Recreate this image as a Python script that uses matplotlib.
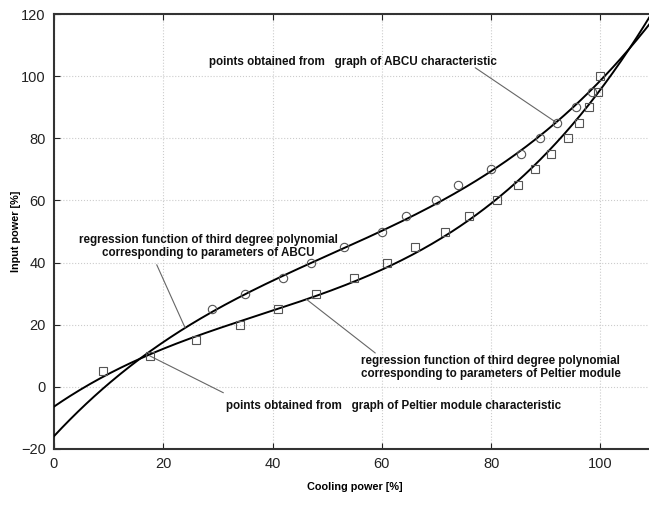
import numpy as np
import matplotlib
matplotlib.use("Agg")
import matplotlib.pyplot as plt

plt.rcParams['font.family'] = ['Liberation Sans', 'DejaVu Sans']

# points read from the ABCU characteristic (circles)
abcu_x = [29, 35, 42, 47, 53, 60, 64.5, 70, 74, 80, 85.5, 89, 92, 95.5, 98.5]
abcu_y = [25, 30, 35, 40, 45, 50, 55, 60, 65, 70, 75, 80, 85, 90, 95]

# points read from the Peltier module characteristic (squares)
pelt_x = [9, 17.5, 26, 34, 41, 48, 55, 61, 66, 71.5, 76, 81, 85, 88, 91, 94, 96, 98, 99.5, 100]
pelt_y = [5, 10, 15, 20, 25, 30, 35, 40, 45, 50, 55, 60, 65, 70, 75, 80, 85, 90, 95, 100]

# points
abcu_curve_x = [0, 6.6, 15.6, 24, 35, 42, 60, 80, 92, 98.5, 105, 109]
abcu_curve_y = [-16, -4.2, 8.9, 19.3, 30, 35, 50.3, 70.3, 85, 95, 108.5, 117]
pelt_curve_x = [0, 1.8, 15.6, 26, 34, 46.2, 55, 61, 71.5, 81, 91, 98, 105, 109]
pelt_curve_y = [-6, -4.2, 8.9, 15.5, 20.5, 28, 34.5, 39.5, 50, 60, 75, 90, 108.5, 120]

x_ticks = [0, 20, 40, 60, 80, 100]
y_ticks = [-20, 0, 20, 40, 60, 80, 100, 120]

# third degree polynomials through the curve readings
abcu_fit = np.poly1d(np.polyfit(abcu_curve_x, abcu_curve_y, 3))
pelt_fit = np.poly1d(np.polyfit(pelt_curve_x, pelt_curve_y, 3))
xs = np.linspace(0, 110, 300)

fig = plt.figure(figsize=(6.49, 5.09), dpi=100)
ax = fig.add_axes([54 / 649, 1 - 449 / 509, 601 / 649, 435 / 509])

ax.plot(xs, abcu_fit(xs), color='black', lw=1.4, zorder=3)
ax.plot(xs, pelt_fit(xs), color='black', lw=1.4, zorder=3)
ax.plot(abcu_x, abcu_y, 'o', ms=6, mfc='none', mec='#555555', mew=0.8, zorder=4)
ax.plot(pelt_x, pelt_y, 's', ms=6, mfc='none', mec='#555555', mew=0.8, zorder=4)

ax.set_xlim(0, 110)
ax.set_ylim(-20, 120)
ax.set_xticks(x_ticks)
ax.set_yticks(y_ticks)
ax.tick_params(direction='in', length=4, top=True, right=True, labelsize=10.5,
               colors='#222222', pad=6)
ax.grid(True, color='#cccccc', ls=':', lw=0.8)
for s in ax.spines.values():
    s.set_linewidth(1.5)
    s.set_color('#333333')

ax.set_xlabel('Cooling power [%]', fontsize=7.8, fontweight='bold', labelpad=8)
ax.set_ylabel('Input power [%]', fontsize=7.8, fontweight='bold', labelpad=0)

txt = dict(fontsize=8.4, fontweight='bold', color='#111111')
line = dict(arrowstyle='-', color='#666666', lw=0.8, shrinkA=0, shrinkB=0)

# ABCU points label
ax.text(54.7, 104.6, 'points obtained from   graph of ABCU characteristic',
        ha='center', va='center', **txt)
ax.annotate('', xy=(abcu_x[12], abcu_y[12]), xytext=(77.1, 102.7), arrowprops=line)

# ABCU regression label
ax.text(28.2, 45.2, 'regression function of third degree polynomial\ncorresponding to parameters of ABCU',
        ha='center', va='center', linespacing=1.1, **txt)
ax.annotate('', xy=(24, abcu_fit(24)), xytext=(18.8, 39.3), arrowprops=line)

# Peltier regression label
ax.text(79.9, 6.1, 'regression function of third degree polynomial\ncorresponding to parameters of Peltier module',
        ha='center', va='center', linespacing=1.1, **txt)
ax.annotate('', xy=(46.2, pelt_fit(46.2)), xytext=(58.8, 10.9), arrowprops=line)

# Peltier points label
ax.text(62.2, -6.0, 'points obtained from   graph of Peltier module characteristic',
        ha='center', va='center', **txt)
ax.annotate('', xy=(pelt_x[1], pelt_y[1]), xytext=(31, -1.9), arrowprops=line)

fig.savefig('out.png', dpi=100)
